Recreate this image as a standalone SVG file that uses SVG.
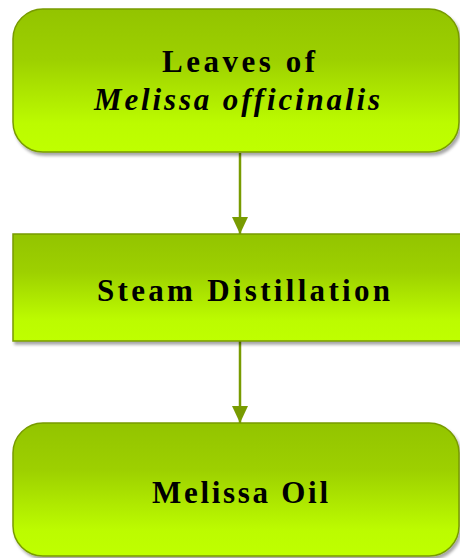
<svg xmlns="http://www.w3.org/2000/svg" width="460" height="558" viewBox="0 0 460 558">
<defs>
<linearGradient id="g" x1="0" y1="0" x2="0" y2="1">
<stop offset="0" stop-color="#93c400"/>
<stop offset="0.35" stop-color="#9dd000"/>
<stop offset="0.8" stop-color="#bcfb00"/>
<stop offset="1" stop-color="#bfff00"/>
</linearGradient>
<filter id="sh" x="-10%" y="-10%" width="120%" height="130%">
<feDropShadow dx="2" dy="3" stdDeviation="1.8" flood-color="#000" flood-opacity="0.35"/>
</filter>
<marker id="ah" markerWidth="17" markerHeight="16" refX="17" refY="8" orient="auto" markerUnits="userSpaceOnUse" viewBox="0 0 17 16">
<path d="M0,0 L17,8 L0,16 Z" fill="#789b00"/>
</marker>
</defs>
<style>
.box{fill:url(#g);stroke:#789b00;stroke-width:1.5;filter:url(#sh)}
.t{font-family:"Liberation Serif","Times New Roman",serif;font-weight:bold;font-size:31px;fill:#000}
.i{font-style:italic}
.c{stroke:#789b00;stroke-width:2.5;fill:none}
</style>
<g id="connectors">
<path class="c" d="M240,153 V234" marker-end="url(#ah)"/>
<path class="c" d="M240,341 V423" marker-end="url(#ah)"/>
</g>
<g id="node1">
<rect class="box" x="13" y="9" width="446" height="143" rx="30" ry="30"/>
<text class="t" x="162" y="72" textLength="153" lengthAdjust="spacing">Leaves of</text>
<text class="t i" x="94" y="110" textLength="286" lengthAdjust="spacing">Melissa officinalis</text>
</g>
<g id="node2">
<rect class="box" x="13" y="234" width="460" height="107"/>
<text class="t" x="97" y="301" textLength="293" lengthAdjust="spacing">Steam Distillation</text>
</g>
<g id="node3">
<rect class="box" x="13" y="423" width="446" height="133" rx="30" ry="30"/>
<text class="t" x="152" y="503" textLength="176" lengthAdjust="spacing">Melissa Oil</text>
</g>
</svg>
